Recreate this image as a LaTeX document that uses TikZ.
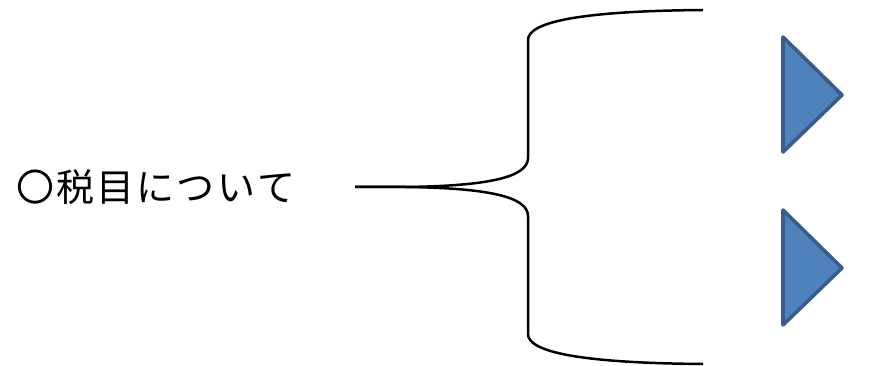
\documentclass[tikz,border=0pt]{standalone}
\usepackage{fontspec}
\newfontfamily\jpfont{Noto Sans CJK JP}
\usetikzlibrary{calc}

\definecolor{trifill}{HTML}{4F81BD}
\definecolor{triline}{HTML}{385D8A}

\newcommand{\jpgap}{\kern 2.2pt}

\begin{document}
\begin{tikzpicture}[x=1pt,y=-1pt]
		
		\useasboundingbox (0,0) rectangle (870,366);
		
		\node[anchor=west,inner sep=0pt] (title) at (16,187) {\jpfont\fontsize{38}{40}\selectfont 〇\jpgap 税\jpgap 目\jpgap に\jpgap つ\jpgap い\jpgap て};
		
		% brace
		\coordinate (tip) at (355,187);
		\draw [line width=2.5pt]  (tip) -- (405,187) .. controls (485,186) and (528,178) .. (528,158) -- (528,40) .. controls (528,22) and (580,11) .. (703,10) ;
		\draw [line width=2.5pt]  (tip) -- (405,187) .. controls (485,188) and (528,196) .. (528,216) -- (528,334) .. controls (528,352) and (580,363) .. (703,364) ;
		
		
		\begin{scope}[xshift=783pt,yshift=-37pt]
			\draw [line width=3.6pt,line join=round,triline,fill=trifill]  plot[] coordinates {(0,0) (59,58) (0,115) } -- cycle;
		\end{scope}
		
		\begin{scope}[xshift=783pt,yshift=-210pt]
			\draw [line width=3.6pt,line join=round,triline,fill=trifill]  plot[] coordinates {(0,0) (59,58) (0,115) } -- cycle;
		\end{scope}
		
	\end{tikzpicture}
\end{document}
